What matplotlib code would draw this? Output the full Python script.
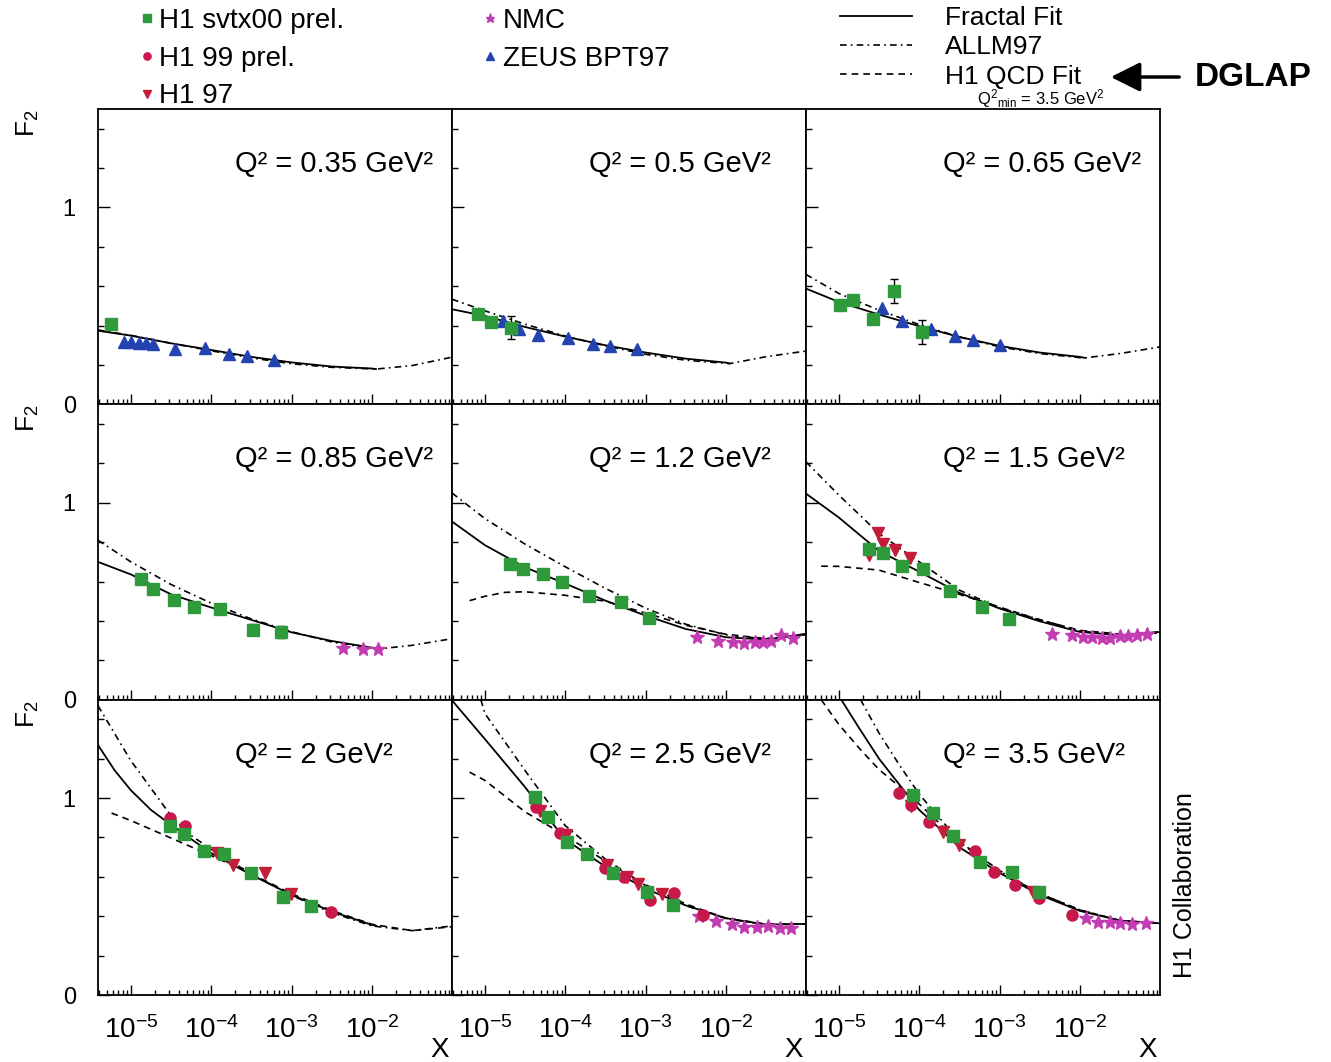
import numpy as np
import matplotlib
matplotlib.use("Agg")
import matplotlib.pyplot as plt
from matplotlib.lines import Line2D
from matplotlib.patches import FancyArrowPatch
from matplotlib.ticker import FixedLocator, LogLocator, MultipleLocator, NullFormatter

plt.rcParams['font.family'] = ['Liberation Sans', 'DejaVu Sans']
plt.rcParams['mathtext.fontset'] = 'custom'
plt.rcParams['mathtext.rm'] = 'Liberation Sans'
plt.rcParams['mathtext.it'] = 'Liberation Sans:italic'
plt.rcParams['mathtext.bf'] = 'Liberation Sans:bold'

# Q2 bins (GeV^2), one panel each
q2_values = ['0.35', '0.5', '0.65', '0.85', '1.2', '1.5', '2', '2.5', '3.5']

# curves: (log10 x, F2)   data: (log10 x, F2[, error])
# --- Q2 = 0.35
fit_q035 = ([-5.41, -5.0, -4.5, -4.0, -3.5, -3.0, -2.5, -2.0, -1.95],
            [0.374, 0.349, 0.31, 0.276, 0.241, 0.213, 0.192, 0.182, 0.179])
allm_q035 = ([-5.41, -5.0, -4.5, -4.0, -3.5, -3.0, -2.5, -2.0, -1.95, -1.5, -1.0],
             [0.378, 0.35, 0.31, 0.272, 0.236, 0.206, 0.188, 0.18, 0.179, 0.197, 0.24])
svtx_q035 = ([-5.25], [0.408], [0.015])
zeus_q035 = ([-5.08, -5.0, -4.9, -4.81, -4.72, -4.45, -4.08, -3.78, -3.56, -3.22],
             [0.318, 0.315, 0.312, 0.31, 0.305, 0.281, 0.286, 0.255, 0.243, 0.226])

# --- Q2 = 0.5
fit_q05 = ([-5.41, -5.0, -4.5, -4.0, -3.5, -3.0, -2.5, -2.0, -1.96],
           [0.483, 0.449, 0.393, 0.344, 0.3, 0.263, 0.232, 0.212, 0.208])
allm_q05 = ([-5.41, -5.0, -4.5, -4.0, -3.5, -3.0, -2.5, -2.0, -1.95, -1.5, -1.0],
            [0.534, 0.475, 0.407, 0.347, 0.297, 0.254, 0.224, 0.208, 0.207, 0.242, 0.271])
svtx_q05 = ([-5.08, -4.92, -4.67], [0.458, 0.419, 0.39], [0.015, 0.015, 0.06])
zeus_q05 = ([-4.77, -4.57, -4.34, -3.97, -3.66, -3.44, -3.11],
            [0.424, 0.381, 0.351, 0.339, 0.305, 0.297, 0.283])

# --- Q2 = 0.65
fit_q065 = ([-5.41, -5.0, -4.5, -4.0, -3.5, -3.0, -2.5, -2.0, -1.94],
            [0.588, 0.52, 0.456, 0.397, 0.342, 0.297, 0.263, 0.241, 0.236])
allm_q065 = ([-5.41, -5.0, -4.5, -4.0, -3.5, -3.0, -2.5, -2.0, -1.94, -1.5, -1.0],
             [0.66, 0.563, 0.478, 0.405, 0.342, 0.292, 0.258, 0.237, 0.236, 0.258, 0.292])
svtx_q065 = ([-4.99, -4.82, -4.57, -4.31, -3.97],
             [0.507, 0.532, 0.432, 0.575, 0.368], [0.015, 0.015, 0.015, 0.06, 0.06])
zeus_q065 = ([-4.46, -4.22, -3.85, -3.56, -3.33, -3.0],
             [0.49, 0.424, 0.385, 0.347, 0.325, 0.303])

# --- Q2 = 0.85
fit_q085 = ([-5.41, -5.0, -4.5, -4.0, -3.5, -3.0, -2.5, -2.0, -1.93],
            [0.70, 0.636, 0.535, 0.468, 0.405, 0.342, 0.298, 0.264, 0.259])
allm_q085 = ([-5.41, -5.0, -4.5, -4.0, -3.5, -3.0, -2.5, -2.0, -1.93, -1.5, -1.0],
             [0.81, 0.70, 0.585, 0.49, 0.41, 0.345, 0.293, 0.259, 0.257, 0.276, 0.31])
svtx_q085 = ([-4.87, -4.72, -4.46, -4.21, -3.89, -3.48, -3.13],
             [0.615, 0.561, 0.508, 0.471, 0.458, 0.356, 0.344],
             [0.015, 0.015, 0.015, 0.015, 0.015, 0.03, 0.03])
nmc_q085 = ([-2.36, -2.11, -1.93], [0.264, 0.259, 0.256])

# --- Q2 = 1.2
fit_q12 = ([-5.41, -5.0, -4.5, -4.0, -3.5, -3.0, -2.5, -2.0, -1.5, -1.0],
           [0.905, 0.785, 0.672, 0.59, 0.503, 0.427, 0.359, 0.317, 0.305, 0.334])
allm_q12 = ([-5.41, -5.0, -4.5, -4.0, -3.5, -3.0, -2.5, -2.0, -1.5, -1.0],
            [1.05, 0.92, 0.79, 0.675, 0.565, 0.465, 0.383, 0.329, 0.308, 0.334])
qcd_q12 = ([-5.19, -5.0, -4.75, -4.5, -4.0, -3.5, -3.0, -2.5, -2.0, -1.5, -1.0],
           [0.503, 0.525, 0.545, 0.548, 0.53, 0.5, 0.44, 0.378, 0.332, 0.31, 0.33])
svtx_q12 = ([-4.69, -4.53, -4.28, -4.04, -3.70, -3.30, -2.96],
            [0.69, 0.664, 0.639, 0.6, 0.525, 0.498, 0.414])
nmc_q12 = ([-2.36, -2.10, -1.91, -1.78, -1.64, -1.54, -1.44, -1.31, -1.16],
           [0.317, 0.3, 0.295, 0.288, 0.292, 0.295, 0.3, 0.329, 0.312])

# --- Q2 = 1.5
fit_q15 = ([-5.41, -5.0, -4.5, -4.0, -3.5, -3.0, -2.5, -2.0, -1.5, -1.0],
           [1.047, 0.925, 0.755, 0.65, 0.542, 0.463, 0.398, 0.344, 0.327, 0.344])
allm_q15 = ([-5.41, -5.0, -4.5, -4.0, -3.5, -3.0, -2.5, -2.0, -1.5, -1.0],
            [1.208, 1.039, 0.844, 0.70, 0.556, 0.466, 0.407, 0.349, 0.327, 0.344])
qcd_q15 = ([-5.22, -5.0, -4.5, -4.0, -3.5, -3.0, -2.5, -2.0, -1.5, -1.0],
           [0.678, 0.677, 0.658, 0.595, 0.535, 0.47, 0.405, 0.352, 0.333, 0.339])
svtx_q15 = ([-4.63, -4.45, -4.21, -3.95, -3.62, -3.22, -2.88],
            [0.764, 0.747, 0.68, 0.666, 0.551, 0.471, 0.408])
h197_q15 = ([-4.63, -4.51, -4.45, -4.30, -4.11], [0.737, 0.844, 0.793, 0.759, 0.717])
nmc_q15 = ([-2.35, -2.10, -1.96, -1.85, -1.73, -1.63, -1.50, -1.40, -1.29, -1.17],
           [0.336, 0.327, 0.319, 0.319, 0.314, 0.314, 0.324, 0.324, 0.327, 0.336])

# --- Q2 = 2
fit_q2 = ([-5.41, -5.2, -5.0, -4.75, -4.5, -4.0, -3.5, -3.0, -2.5, -2.0, -1.95],
          [1.27, 1.14, 1.04, 0.94, 0.864, 0.72, 0.61, 0.508, 0.424, 0.356, 0.352])
allm_q2 = ([-5.41, -5.0, -4.5, -4.25, -4.0, -3.5, -3.0, -2.5, -2.0, -1.5, -1.0],
           [1.47, 1.19, 0.91, 0.81, 0.74, 0.615, 0.505, 0.418, 0.351, 0.327, 0.351])
qcd_q2 = ([-5.24, -5.0, -4.5, -4.0, -3.5, -3.0, -2.5, -2.0, -1.5, -1.0],
          [0.924, 0.886, 0.797, 0.708, 0.615, 0.514, 0.429, 0.359, 0.327, 0.347])
svtx_q2 = ([-4.51, -4.34, -4.09, -3.84, -3.51, -3.11, -2.76],
           [0.856, 0.819, 0.729, 0.715, 0.622, 0.5, 0.453])
h199_q2 = ([-4.51, -4.33, -2.51], [0.898, 0.859, 0.424])
h197_q2 = ([-3.93, -3.73, -3.33, -3.01], [0.72, 0.658, 0.622, 0.514])

# --- Q2 = 2.5
fit_q25 = ([-5.41, -5.0, -4.5, -4.25, -4.0, -3.5, -3.0, -2.5, -2.0, -1.5, -1.0],
           [1.497, 1.30, 1.056, 0.92, 0.79, 0.652, 0.54, 0.455, 0.39, 0.358, 0.361])
allm_q25 = ([-5.05, -5.0, -4.5, -4.0, -3.5, -3.0, -2.5, -2.0, -1.5, -1.0],
            [1.5, 1.43, 1.14, 0.86, 0.69, 0.556, 0.454, 0.388, 0.356, 0.361])
qcd_q25 = ([-5.19, -5.0, -4.5, -4.0, -3.5, -3.0, -2.5, -2.0, -1.5, -1.0],
           [1.132, 1.09, 0.93, 0.81, 0.68, 0.56, 0.462, 0.39, 0.36, 0.361])
svtx_q25 = ([-4.38, -4.22, -3.98, -3.73, -3.40, -2.98, -2.66],
            [1.005, 0.903, 0.776, 0.714, 0.62, 0.525, 0.458])
h199_q25 = ([-4.37, -4.07, -3.50, -3.27, -2.95, -2.65, -2.28],
            [0.954, 0.824, 0.644, 0.598, 0.485, 0.519, 0.407])
h197_q25 = ([-4.31, -3.99, -3.48, -3.23, -3.09, -2.80],
            [0.937, 0.814, 0.661, 0.598, 0.564, 0.514])
nmc_q25 = ([-2.34, -2.12, -1.92, -1.78, -1.62, -1.48, -1.33, -1.19],
           [0.40, 0.378, 0.361, 0.344, 0.344, 0.349, 0.339, 0.339])

# --- Q2 = 3.5
fit_q35 = ([-4.97, -4.75, -4.5, -4.25, -4.0, -3.75, -3.5, -3.0, -2.5, -2.0, -1.5, -1.0],
           [1.5, 1.357, 1.2, 1.07, 0.94, 0.847, 0.75, 0.62, 0.508, 0.427, 0.378, 0.364])
allm_q35 = ([-4.73, -4.5, -4.25, -4.0, -3.5, -3.0, -2.5, -2.0, -1.5, -1.0],
            [1.5, 1.33, 1.17, 1.02, 0.78, 0.63, 0.515, 0.432, 0.378, 0.364])
qcd_q35 = ([-5.22, -5.0, -4.75, -4.5, -4.25, -4.0, -3.5, -3.0, -2.5, -2.0, -1.5, -1.0],
           [1.5, 1.374, 1.255, 1.145, 1.06, 0.97, 0.775, 0.632, 0.515, 0.432, 0.378, 0.364])
svtx_q35 = ([-4.08, -3.83, -3.58, -3.25, -2.84, -2.51],
            [1.014, 0.924, 0.81, 0.675, 0.627, 0.525])
h199_q35 = ([-4.25, -4.10, -3.88, -3.30, -3.07, -2.81, -2.51, -2.10],
            [1.025, 0.966, 0.881, 0.732, 0.627, 0.559, 0.492, 0.407])
h197_q35 = ([-4.10, -3.71, -3.50, -2.59], [0.958, 0.83, 0.763, 0.525])
nmc_q35 = ([-1.93, -1.78, -1.63, -1.50, -1.35, -1.18],
           [0.39, 0.373, 0.37, 0.364, 0.359, 0.364])

panels = [
    dict(fit=fit_q035, allm=allm_q035, svtx=svtx_q035, zeus=zeus_q035),
    dict(fit=fit_q05, allm=allm_q05, svtx=svtx_q05, zeus=zeus_q05),
    dict(fit=fit_q065, allm=allm_q065, svtx=svtx_q065, zeus=zeus_q065),
    dict(fit=fit_q085, allm=allm_q085, svtx=svtx_q085, nmc=nmc_q085),
    dict(fit=fit_q12, allm=allm_q12, qcd=qcd_q12, svtx=svtx_q12, nmc=nmc_q12),
    dict(fit=fit_q15, allm=allm_q15, qcd=qcd_q15, svtx=svtx_q15, h197=h197_q15, nmc=nmc_q15),
    dict(fit=fit_q2, allm=allm_q2, qcd=qcd_q2, svtx=svtx_q2, h199=h199_q2, h197=h197_q2),
    dict(fit=fit_q25, allm=allm_q25, qcd=qcd_q25, svtx=svtx_q25, h199=h199_q25,
         h197=h197_q25, nmc=nmc_q25),
    dict(fit=fit_q35, allm=allm_q35, qcd=qcd_q35, svtx=svtx_q35, h199=h199_q35,
         h197=h197_q35, nmc=nmc_q35),
]

# line and marker styles
curve_style = {
    'fit': dict(color='black', lw=1.3, ls='-'),
    'allm': dict(color='black', lw=1.2, ls=(0, (4, 2.5, 1, 2.5))),
    'qcd': dict(color='black', lw=1.2, ls=(0, (4, 3))),
}
data_style = {
    'svtx': dict(marker='s', color='#2f9a3c', ms=8),
    'h199': dict(marker='o', color='#c8184a', ms=8),
    'h197': dict(marker='v', color='#c41d3c', ms=8),
    'nmc': dict(marker='*', color='#c23cb2', ms=10),
    'zeus': dict(marker='^', color='#2343b0', ms=8),
}
data_order = ['nmc', 'zeus', 'h197', 'h199', 'svtx']

W, H = 1331, 1062
fig = plt.figure(figsize=(W / 100, H / 100), dpi=100)
axes = fig.subplots(3, 3, sharex=True, sharey=True,
                    gridspec_kw=dict(left=98 / W, right=1160 / W, top=1 - 109 / H,
                                     bottom=1 - 995 / H, hspace=0, wspace=0))

for i, (ax, q2, p) in enumerate(zip(axes.flat, q2_values, panels)):
    for key in ['allm', 'qcd', 'fit']:
        if key in p:
            lgx, f2 = p[key]
            ax.plot(10 ** np.asarray(lgx), f2, zorder=2, **curve_style[key])
    for key in data_order:
        if key not in p:
            continue
        d = p[key]
        x = 10 ** np.asarray(d[0])
        st = data_style[key]
        if len(d) > 2:
            ax.errorbar(x, d[1], yerr=d[2], fmt='none', ecolor='black', elinewidth=1,
                        capsize=3, capthick=1, zorder=3)
        ax.plot(x, d[1], ls='none', marker=st['marker'], color=st['color'],
                ms=st['ms'], mec=st['color'], zorder=4)

    ax.text(0.388, 0.787, f'Q² = {q2} GeV²', transform=ax.transAxes,
            fontsize=21, ha='left', va='baseline')

    ax.set_xscale('log')
    ax.set_xlim(3.9e-6, 0.099)
    ax.set_ylim(0, 1.5)
    ax.xaxis.set_major_locator(FixedLocator([1e-5, 1e-4, 1e-3, 1e-2]))
    ax.xaxis.set_minor_locator(LogLocator(base=10, subs=np.arange(2, 10), numticks=30))
    ax.xaxis.set_minor_formatter(NullFormatter())
    ax.yaxis.set_major_locator(FixedLocator([0, 1]))
    ax.yaxis.set_minor_locator(MultipleLocator(0.2))
    ax.tick_params(which='both', direction='in', top=False, right=False, width=1)
    ax.tick_params(axis='x', which='major', length=7.5, labelsize=20, pad=15)
    ax.tick_params(axis='x', which='minor', length=3.8)
    ax.tick_params(axis='y', which='major', length=8.5, labelsize=17, pad=16)
    ax.tick_params(axis='y', which='minor', length=4.5)
    for s in ax.spines.values():
        s.set_linewidth(1.3)

    row, col = divmod(i, 3)
    if col == 0:
        ax.text(-0.198, 0.952, r'F$_2$', transform=ax.transAxes, rotation=90,
                fontsize=19, ha='center', va='center')
    if row == 2:
        ax.text(0.966, -0.185, 'X', transform=ax.transAxes, fontsize=20,
                ha='center', va='center')

fig.text(1185 / W, 1 - 885 / H, 'H1 Collaboration', rotation=90, fontsize=18,
         ha='center', va='center')

# legends across the top
data_labels = {'svtx': 'H1 svtx00 prel.', 'h199': 'H1 99 prel.', 'h197': 'H1 97',
               'nmc': 'NMC', 'zeus': 'ZEUS BPT97'}
data_handles = []
for key in ['svtx', 'h199', 'h197', 'nmc', 'zeus']:
    st = data_style[key]
    data_handles.append(Line2D([], [], ls='none', marker=st['marker'], color=st['color'],
                               ms=st['ms'] * 0.65, label=data_labels[key]))
fig.legend(handles=data_handles, ncol=2, loc='upper left',
           bbox_to_anchor=(140 / W, 1 - 8 / H), frameon=False, fontsize=20,
           handlelength=0.5, handletextpad=0.2, columnspacing=5.0, labelspacing=0.42,
           borderpad=0, borderaxespad=0)

curve_labels = {'fit': 'Fractal Fit', 'allm': 'ALLM97', 'qcd': 'H1 QCD Fit'}
curve_handles = [Line2D([], [], label=curve_labels[k], **curve_style[k])
                 for k in ['fit', 'allm', 'qcd']]
fig.legend(handles=curve_handles, loc='upper left', bbox_to_anchor=(840 / W, 1 - 6 / H),
           frameon=False, fontsize=19, handlelength=2.73, handletextpad=1.25,
           labelspacing=0.2, borderpad=0, borderaxespad=0)

fig.text(1041 / W, 1 - 99 / H, r'Q$^2$$_{\mathrm{min}}$ = 3.5 GeV$^2$', fontsize=12,
         ha='center', va='center')

fig.add_artist(FancyArrowPatch((1182 / W, 1 - 77 / H), (1108 / W, 1 - 77 / H),
                               transform=fig.transFigure, color='black', lw=2.5,
                               arrowstyle='-|>,head_length=0.9,head_width=0.45',
                               mutation_scale=20))
fig.text(1195 / W, 1 - 77 / H, 'DGLAP', fontsize=24, fontweight='bold',
         ha='left', va='center')

fig.savefig('out.png', dpi=100)
